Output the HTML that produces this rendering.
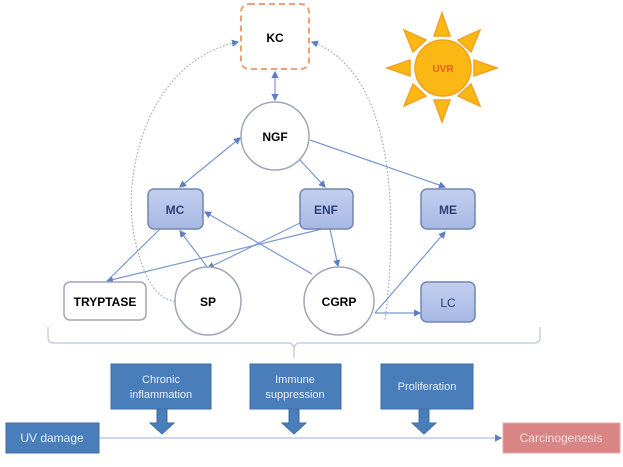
<!DOCTYPE html><html><head><style>body{margin:0;background:#fff}svg{display:block}text{font-family:"Liberation Sans",sans-serif}</style></head><body>
<svg width="623" height="467" viewBox="0 0 623 467">
<defs><marker id="a" markerWidth="6" markerHeight="6" refX="5" refY="3" orient="auto"><path d="M0,0L6,3L0,6z" fill="#5b7fc4"/></marker>
<marker id="b" markerWidth="6" markerHeight="6" refX="1" refY="3" orient="auto"><path d="M6,0L0,3L6,6z" fill="#5b7fc4"/></marker>
<linearGradient id="g" x1="0" y1="0" x2="0" y2="1"><stop offset="0" stop-color="#c3cfee"/><stop offset="1" stop-color="#a6b8e4"/></linearGradient></defs>
<g fill="none" stroke="#9aa8c8" stroke-width="1.2" stroke-dasharray="1.5,2">
<path d="M238,42 C150,60 120,170 135,240 C145,285 160,300 175,301" marker-start="url(#b)"/>
<path d="M312,42 C390,70 400,200 385,320" marker-start="url(#b)"/>
</g>
<g stroke="#7c98d0" stroke-width="1.2" fill="none">
<line x1="275" y1="72" x2="275" y2="100" marker-start="url(#b)" marker-end="url(#a)"/>
<line x1="240" y1="138" x2="180" y2="187" marker-start="url(#b)" marker-end="url(#a)"/>
<line x1="300" y1="160" x2="325" y2="187" marker-end="url(#a)"/>
<line x1="310" y1="140" x2="445" y2="187" marker-end="url(#a)"/>
<line x1="312" y1="274" x2="205" y2="212" marker-end="url(#a)"/>
<line x1="302" y1="222" x2="208" y2="268" marker-end="url(#a)"/>
<line x1="322" y1="229" x2="107" y2="281" marker-end="url(#a)"/>
<line x1="160" y1="229" x2="107" y2="281"/>
<line x1="208" y1="268" x2="180" y2="231" marker-end="url(#a)"/>
<line x1="330" y1="229" x2="338" y2="266" marker-end="url(#a)"/>
<line x1="375" y1="313" x2="445" y2="232" marker-end="url(#a)"/>
<line x1="375" y1="313" x2="420" y2="313" marker-end="url(#a)"/>
<path d="M48,327 V337 Q48,343 54,343 H288 Q294,343 294,350 V358 M294,350 Q294,343 300,343 H534 Q540,343 540,337 V327" stroke="#c6d0e0" stroke-width="1.5"/>
<line x1="99" y1="438" x2="501" y2="438" stroke="#aebde0" marker-end="url(#a)"/>
</g>
<rect x="241" y="4" width="68" height="65" rx="8" fill="#fff" stroke="#f0a070" stroke-width="2" stroke-dasharray="6,4"/>
<text x="275" y="42" text-anchor="middle" font-size="12" font-weight="bold">KC</text>
<g fill="#fbb714" stroke="#f5a020" stroke-width="1.5">
<polygon points="442,13 434,36 450,36"/><polygon points="442,122 434,100 450,100"/>
<polygon points="387,68 410,60 410,76"/><polygon points="497,68 474,60 474,76"/>
<polygon points="404,30 413,52 426,40"/><polygon points="480,30 458,40 471,52"/>
<polygon points="404,106 426,96 413,84"/><polygon points="480,106 471,84 458,96"/>
<ellipse cx="443" cy="68" rx="28" ry="28"/></g>
<text x="443" y="72" text-anchor="middle" font-size="10" fill="#e8601c" font-weight="bold">UVR</text>
<g fill="#fff" stroke="#a0a6b8" stroke-width="1.5">
<circle cx="275" cy="136" r="34"/><ellipse cx="208" cy="301" rx="33" ry="34"/><ellipse cx="339" cy="301" rx="35" ry="34"/>
<rect x="64" y="282" width="82" height="38" rx="6"/></g>
<g fill="url(#g)" stroke="#7385b0" stroke-width="1.5">
<rect x="148" y="189" width="55" height="40" rx="6"/><rect x="300" y="189" width="53" height="40" rx="6"/><rect x="421" y="189" width="54" height="40" rx="6"/><rect x="421" y="282" width="54" height="40" rx="6"/></g>
<g font-size="12" font-weight="bold" text-anchor="middle">
<text x="275" y="141">NGF</text><text x="208" y="306">SP</text><text x="339" y="306">CGRP</text><text x="105" y="306">TRYPTASE</text>
<g fill="#2c3e78"><text x="175" y="214">MC</text><text x="326" y="214">ENF</text><text x="448" y="214">ME</text><text x="448" y="307" font-weight="normal">LC</text></g></g>
<g fill="#4a7ebb" stroke="#3d6ca5">
<rect x="111" y="364" width="100" height="45"/><rect x="250" y="364" width="91" height="45"/><rect x="381" y="364" width="92" height="45"/>
<rect x="6" y="423" width="93" height="30"/>
<path d="M157,409h10v14h7l-12,11l-12,-11h7z M289,409h10v14h7l-12,11l-12,-11h7z M419,409h10v14h7l-12,11l-12,-11h7z"/></g>
<rect x="503" y="423" width="117" height="30" fill="#d98585" stroke="#e4a8a8"/>
<g fill="#e6eef8" font-size="11" text-anchor="middle">
<text x="161" y="383">Chronic</text><text x="161" y="398">inflammation</text>
<text x="295" y="383">Immune</text><text x="295" y="398">suppression</text>
<text x="427" y="390">Proliferation</text>
<text x="52" y="442" font-size="12">UV damage</text>
<text x="561" y="442" font-size="12" fill="#f6e0e0">Carcinogenesis</text></g>
</svg></body></html>
